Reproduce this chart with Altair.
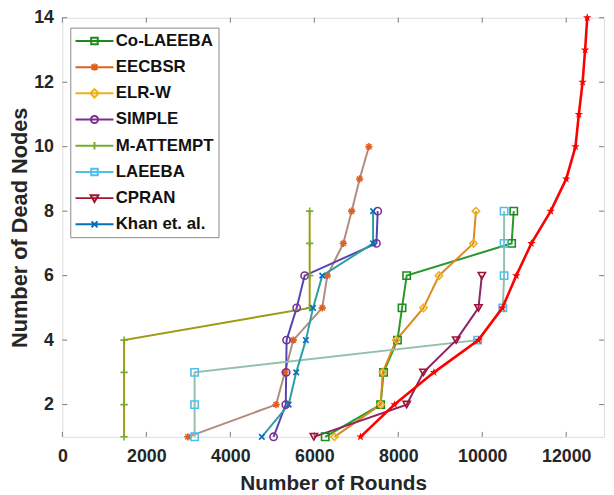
import altair as alt
import pandas as pd

# ---------------- data ----------------
series_names = ["Co-LAEEBA", "EECBSR", "ELR-W", "SIMPLE",
                "M-ATTEMPT", "LAEEBA", "CPRAN", "Khan et. al."]

co_laeeba = [6260, 7580, 7650, 7980, 8090, 8200, 10700, 10750]
eecbsr = [2990, 5090, 5300, 5500, 6190, 6310, 6690, 6890, 7080, 7300]
elr_w = [6480, 7580, 7630, 7950, 8600, 8970, 9790, 9850]
simple = [5030, 5320, 5330, 5340, 5580, 5770, 7480, 7510]
m_attempt = [1470, 1470, 1470, 1470, 5890, 5890, 5890, 5890]
laeeba = [3150, 3150, 3150, 9890, 10490, 10520, 10520, 10520]
cpran = [5990, 8200, 8600, 9380, 9910, 9990]
khan = [4750, 5390, 5570, 5800, 5970, 6190, 7400, 7400]
proposed = [7100, 7910, 8850, 9910, 10480, 10810, 11170, 11630,
            12000, 12220, 12300, 12390, 12450, 12500]

series_values = [co_laeeba, eecbsr, elr_w, simple, m_attempt, laeeba, cpran, khan]

x_ticks = [0, 2000, 4000, 6000, 8000, 10000, 12000]
y_ticks = [2, 4, 6, 8, 10, 12, 14]

# ---------------- styles ----------------
line_colors = ["#26992b", "#b08c7c", "#dc8a20", "#5444b2",
               "#9d9a14", "#94c0aa", "#8c2464", "#2c9ea4"]
marker_colors = ["#1d8a1d", "#e0601f", "#edb120", "#7e2f8e",
                 "#77ac30", "#4dbeee", "#a2142f", "#0072bd"]

plus_path = "M-1,0L1,0M0,-1L0,1"
x_path = "M-0.75,-0.75L0.75,0.75M-0.75,0.75L0.75,-0.75"
ast_path = "M-1,0L1,0M0,-1L0,1M-0.7,-0.7L0.7,0.7M-0.7,0.7L0.7,-0.7"
star_path = ("M0,-1L0.235,-0.324L0.951,-0.309L0.380,0.124L0.588,0.809L0,0.4"
             "L-0.588,0.809L-0.380,0.124L-0.951,-0.309L-0.235,-0.324Z")
plot_shapes = ["square", ast_path, "diamond", "circle",
               plus_path, "square", "triangle-down", x_path]

L = "M-3.2,0L3.2,0"
legend_paths = [
    L + "M-0.55,-0.55L0.55,-0.55L0.55,0.55L-0.55,0.55Z",
    L + "M0,-0.6L0,0.6M-0.5,-0.45L0.5,0.45M-0.5,0.45L0.5,-0.45",
    L + "M0,-0.7L0.7,0L0,0.7L-0.7,0Z",
    L + "M0.6,0A0.6,0.6 0 1,1 -0.6,0A0.6,0.6 0 1,1 0.6,0Z",
    L + "M0,-0.65L0,0.65",
    L + "M-0.55,-0.55L0.55,-0.55L0.55,0.55L-0.55,0.55Z",
    L + "M-0.65,-0.5L0.65,-0.5L0,0.65Z",
    L + "M-0.5,-0.5L0.5,0.5M-0.5,0.5L0.5,-0.5",
]

rows = []
for name, vals in zip(series_names, series_values):
    for i, v in enumerate(vals):
        rows.append({"series": name, "nodes": i + 1, "rounds": v})
df = pd.DataFrame(rows)
red_df = pd.DataFrame({"nodes": list(range(1, len(proposed) + 1)), "rounds": proposed})
xt_df = pd.DataFrame({"rounds": x_ticks})
yt_df = pd.DataFrame({"nodes": y_ticks})
leg_df = pd.DataFrame({"series": series_names})

W, H = 548, 424
AX = "#7a7a7a"
TXT = "#262626"
FONT = "Liberation Sans"

x_axis = alt.Axis(values=x_ticks, format="d", grid=False, domain=False, ticks=False,
                  labelFontSize=18, labelFontWeight="bold", labelColor=TXT,
                  labelPadding=11, labelFlush=False,
                  title="Number of Rounds", titleFontSize=21, titleFontWeight="bold",
                  titleColor=TXT, titleY=36, titleBaseline="top")
y_axis = alt.Axis(values=y_ticks, format="d", grid=False, domain=False, ticks=False,
                  labelFontSize=18, labelFontWeight="bold", labelColor=TXT,
                  labelPadding=9, labelFlush=False,
                  title="Number of Dead Nodes", titleFontSize=22, titleFontWeight="bold",
                  titleColor=TXT, titleX=-43, titleY=H / 2, titleAngle=-90,
                  titleBaseline="middle", titleAlign="center")

x_enc = alt.X("rounds:Q", scale=alt.Scale(domain=[0, 12900], nice=False, zero=False), axis=x_axis)
y_enc = alt.Y("nodes:Q", scale=alt.Scale(domain=[1, 14], nice=False, zero=False), axis=y_axis)

base = alt.Chart(df)

lines = base.mark_line(strokeWidth=2).encode(
    x=x_enc, y=y_enc,
    color=alt.Color("series:N", scale=alt.Scale(domain=series_names, range=line_colors), legend=None),
    order=alt.Order("nodes:Q"),
)
points = base.mark_point(filled=False, strokeWidth=1.6, size=55, opacity=1).encode(
    x=x_enc, y=y_enc,
    stroke=alt.Stroke("series:N", scale=alt.Scale(domain=series_names, range=marker_colors), legend=None),
    shape=alt.Shape("series:N", scale=alt.Scale(domain=series_names, range=plot_shapes), legend=None),
)
red_line = alt.Chart(red_df).mark_line(color="#ff0000", strokeWidth=2.6).encode(
    x=x_enc, y=y_enc, order=alt.Order("nodes:Q"))
red_pts = alt.Chart(red_df).mark_point(filled=True, color="#ff0000", shape=star_path,
                                       size=80, opacity=1).encode(x=x_enc, y=y_enc)

xt_bottom = alt.Chart(xt_df).mark_rule(color=AX, strokeWidth=1).encode(
    x=x_enc, y=alt.value(H), y2=alt.value(H - 5))
xt_top = alt.Chart(xt_df).mark_rule(color=AX, strokeWidth=1).encode(
    x=x_enc, y=alt.value(0), y2=alt.value(5))
yt_left = alt.Chart(yt_df).mark_rule(color=AX, strokeWidth=1).encode(
    y=y_enc, x=alt.value(0), x2=alt.value(5))
yt_right = alt.Chart(yt_df).mark_rule(color=AX, strokeWidth=1).encode(
    y=y_enc, x=alt.value(W), x2=alt.value(W - 5))

data_layer = alt.layer(xt_bottom, xt_top, yt_left, yt_right, lines, points, red_line, red_pts)

leg = alt.Legend(title=None, orient="none", legendX=8, legendY=10, padding=5,
                 rowPadding=8.5, symbolSize=144, symbolStrokeWidth=2, symbolOffset=11,
                 labelOffset=13, labelFont=FONT, labelFontSize=17, labelFontWeight="bold",
                 labelColor="#111111", strokeColor="#8a8a8a", fillColor="white",
                 symbolFillColor="transparent", symbolOpacity=1, labelLimit=300)

legend_layer = alt.Chart(leg_df).transform_filter("false").mark_point(filled=False).encode(
    color=alt.Color("series:N", scale=alt.Scale(domain=series_names, range=marker_colors), legend=leg),
    shape=alt.Shape("series:N", scale=alt.Scale(domain=series_names, range=legend_paths), legend=leg),
)

chart = alt.layer(data_layer, legend_layer).resolve_scale(
    color="independent", shape="independent"
).properties(
    width=W, height=H,
    autosize=alt.AutoSizeParams(type="none"),
    padding={"left": 55, "top": 7, "right": 2, "bottom": 55},
    background="white",
).configure_view(stroke=AX, strokeWidth=1).configure(font=FONT)

chart.save("out.html", embed_options={"renderer": "svg", "actions": False})
